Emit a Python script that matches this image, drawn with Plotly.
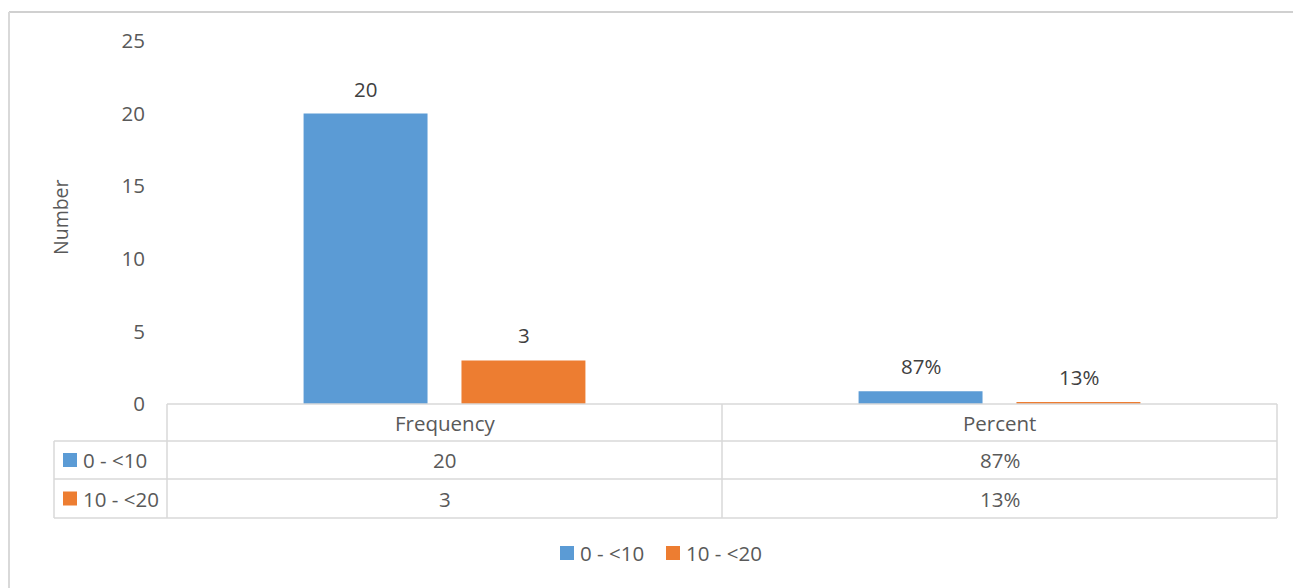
import plotly.graph_objects as go

# ---- data ----
categories = ["Frequency", "Percent"]
series_names = ["0 - <10", "10 - <20"]
values_0_10 = [20, 0.87]
values_10_20 = [3, 0.13]
display_0_10 = ["20", "87%"]
display_10_20 = ["3", "13%"]
y_ticks = [0, 5, 10, 15, 20, 25]

colors = ["#5B9BD5", "#ED7D31"]
W, H = 1293, 588
FONT = "Open Sans"
TXT = "#595959"
GRID = "#D9D9D9"
FS = 20.5


def px(x):
    return min(max(x / W, 0), 1)


def py(y):
    return min(max(1 - y / H, 0), 1)


fig = go.Figure()
series = [values_0_10, values_10_20]
displays = [display_0_10, display_10_20]
for name, vals, col in zip(series_names, series, colors):
    fig.add_trace(go.Bar(x=categories, y=vals, name=name, marker=dict(color=col, line=dict(width=0)),
                         showlegend=False))

plot_l, plot_r, plot_t, plot_b = 167, 1277, 41, 404
fig.update_layout(
    template="none",
    width=W, height=H, autosize=False,
    margin=dict(l=0, r=0, t=0, b=0, pad=0),
    paper_bgcolor="white", plot_bgcolor="white",
    showlegend=False,
    barmode="group", bargap=0.431, bargroupgap=0.215,
    font=dict(family=FONT, color=TXT, size=FS),
    xaxis=dict(domain=[px(plot_l), px(plot_r)], showticklabels=False, showgrid=False, automargin=False,
               zeroline=False, showline=False, ticks=""),
    yaxis=dict(domain=[py(plot_b), py(plot_t)], range=[0, 25], tickvals=y_ticks, automargin=False,
               showgrid=False, zeroline=False, showline=False, ticks="",
               ticklabelstandoff=21, tickfont=dict(size=FS, color=TXT)),
)

shapes = []
annotations = []

# chart border (left + top)
shapes.append(dict(type="line", xref="paper", yref="paper", x0=px(9), x1=1, y0=py(12), y1=py(12),
                   line=dict(color="#D0D0D0", width=2)))
shapes.append(dict(type="line", xref="paper", yref="paper", x0=px(9), x1=px(9), y0=py(12), y1=0,
                   line=dict(color="#D9D9D9", width=2)))

# y-axis title
annotations.append(dict(text="Number", xref="paper", yref="paper", x=px(60), y=py(217), showarrow=False,
                        textangle=-90, font=dict(size=19.5, color=TXT), xanchor="center", yanchor="middle"))

# value labels above bars
offsets = [-79, 79]
for vals, disp, off in zip(series, displays, offsets):
    for cat, v, d in zip(categories, vals, disp):
        annotations.append(dict(text=d, xref="x", yref="y", x=cat, y=v, xshift=off, yshift=25,
                                showarrow=False, font=dict(size=FS, color="#404040"),
                                xanchor="center", yanchor="middle"))

# data table
row_y = [404, 441, 479, 518]
col_x = [54, 167, 722, 1277]
lw = 1.5
shapes.append(dict(type="line", xref="paper", yref="paper", x0=px(167), x1=px(1277), y0=py(404), y1=py(404),
                   line=dict(color=GRID, width=lw)))
for yy in row_y[1:]:
    shapes.append(dict(type="line", xref="paper", yref="paper", x0=px(54), x1=px(1277), y0=py(yy), y1=py(yy),
                       line=dict(color=GRID, width=lw)))
shapes.append(dict(type="line", xref="paper", yref="paper", x0=px(54), x1=px(54), y0=py(441), y1=py(518),
                   line=dict(color=GRID, width=lw)))
for xx in col_x[1:]:
    shapes.append(dict(type="line", xref="paper", yref="paper", x0=px(xx), x1=px(xx), y0=py(404), y1=py(518),
                       line=dict(color=GRID, width=lw)))

# header row
for i, cat in enumerate(categories):
    cx = (col_x[i + 1] + col_x[i + 2]) / 2
    annotations.append(dict(text=cat, xref="paper", yref="paper", x=px(cx), y=py((row_y[0] + row_y[1]) / 2),
                            showarrow=False, font=dict(size=FS, color=TXT), xanchor="center", yanchor="middle"))
# data rows
for r, (name, disp, col) in enumerate(zip(series_names, displays, colors)):
    cy = (row_y[r + 1] + row_y[r + 2]) / 2
    shapes.append(dict(type="rect", xref="paper", yref="paper", x0=px(63), x1=px(77), y0=py(cy - 7), y1=py(cy + 7),
                       fillcolor=col, line=dict(width=0)))
    annotations.append(dict(text=name, xref="paper", yref="paper", x=px(81), y=py(cy), showarrow=False,
                            font=dict(size=FS, color=TXT), xanchor="left", yanchor="middle"))
    for i, d in enumerate(disp):
        cx = (col_x[i + 1] + col_x[i + 2]) / 2
        annotations.append(dict(text=d, xref="paper", yref="paper", x=px(cx), y=py(cy), showarrow=False,
                                font=dict(size=FS, color=TXT), xanchor="center", yanchor="middle"))

# bottom legend
leg_y = 553
leg_items_x = [560, 666]
for name, col, lx in zip(series_names, colors, leg_items_x):
    shapes.append(dict(type="rect", xref="paper", yref="paper", x0=px(lx), x1=px(lx + 14), y0=py(leg_y - 7),
                       y1=py(leg_y + 7), fillcolor=col, line=dict(width=0)))
    annotations.append(dict(text=name, xref="paper", yref="paper", x=px(lx + 18), y=py(leg_y), showarrow=False,
                            font=dict(size=FS, color=TXT), xanchor="left", yanchor="middle"))

fig.update_layout(shapes=shapes, annotations=annotations)
fig.write_html("out.html")
